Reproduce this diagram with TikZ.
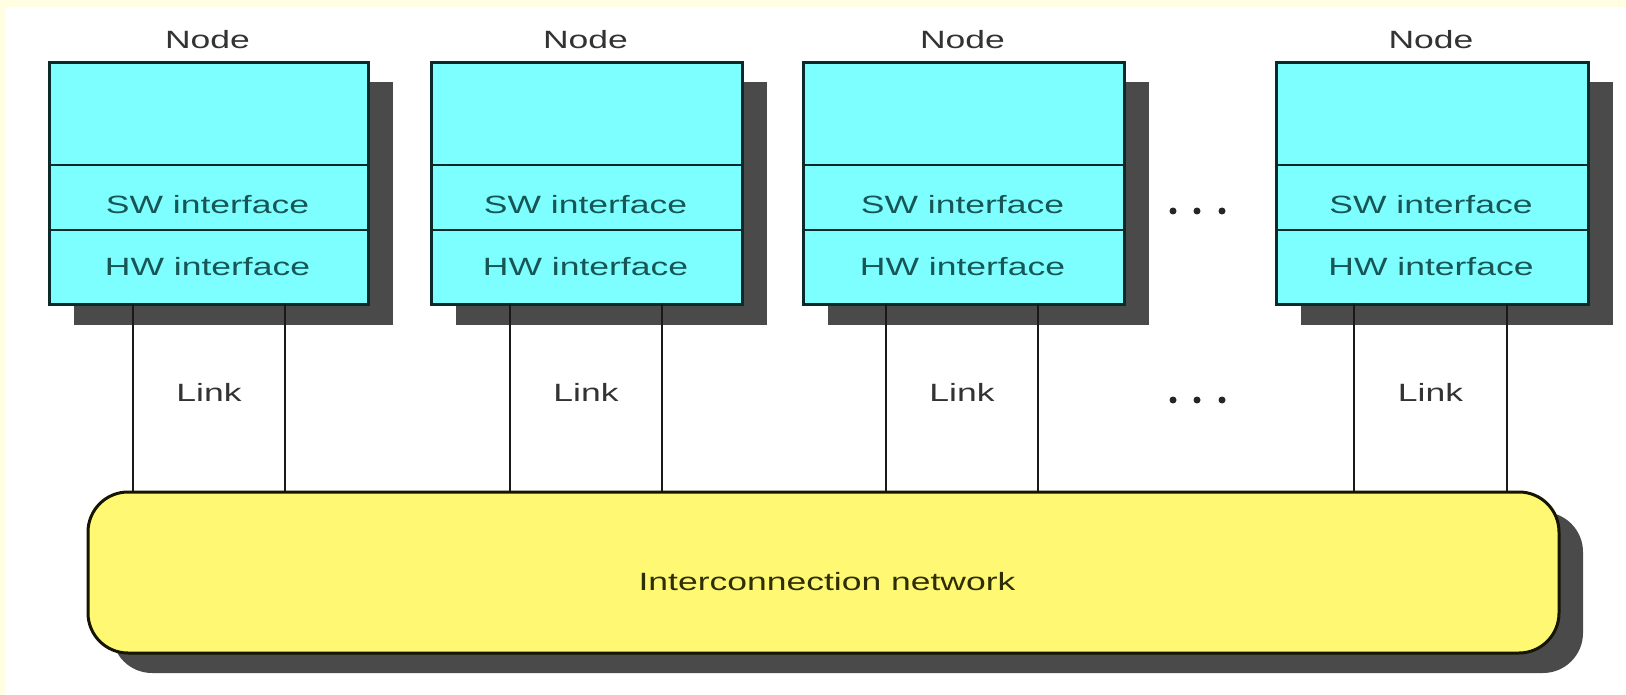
\documentclass[tikz,border=0pt]{standalone}
\usepackage{fontspec}
\setmainfont{Liberation Sans}
\newfontfamily\widefont{Liberation Sans}[FakeStretch=1.42]
\usetikzlibrary{shadows}
\definecolor{framey}{HTML}{FFFDE2}
\definecolor{cyanfill}{HTML}{7DFFFF}
\definecolor{boxline}{HTML}{0B2B2B}
\definecolor{shadowgray}{HTML}{4A4A4A}
\definecolor{netfill}{HTML}{FFF873}
\definecolor{netline}{HTML}{151500}
\definecolor{tealtext}{HTML}{185555}
\definecolor{graytext}{HTML}{333333}
\definecolor{olivetext}{HTML}{2E2E05}
\tikzset{
  lbl/.style={font=\widefont\fontsize{25}{30}\selectfont, inner sep=0pt},
  nodebox/.style={draw=boxline, line width=3pt, fill=cyanfill, minimum height=242pt, inner sep=0pt,
    drop shadow={shadow xshift=24pt, shadow yshift=-20pt, fill=shadowgray, opacity=1}},
  netbox/.style={draw=netline, line width=3pt, fill=netfill, rounded corners=40pt,
    minimum width=1471pt, minimum height=161pt, inner sep=0pt,
    drop shadow={shadow xshift=24pt, shadow yshift=-20pt, fill=shadowgray, opacity=1}},
  divline/.style={draw=boxline, line width=2.5pt},
  linkline/.style={draw=black!90, line width=2.5pt},
  dotmark/.style={fill=black!85}
}
\begin{document}
\begin{tikzpicture}[x=1pt,y=-1pt]
\useasboundingbox (0,0) rectangle (1626,695);
\fill[framey] (0,0) rectangle (1626,695);
\fill[white] (5,7) rectangle (1626,695);

% network
\node[netbox] (net) at (823.5,572.5) {};
\node[lbl, text=olivetext] (netlbl) at (827,582) {Interconnection network};

% node boxes
\foreach \n/\l/\r in {1/48/367, 2/430/741, 3/802/1123, 4/1275/1587}{
  \node[nodebox, minimum width={\r-\l}, anchor=north west] (b\n) at (\l,61) {};
  \draw[divline] ([yshift=-104pt]b\n.north west) -- ([yshift=-104pt]b\n.north east);
  \draw[divline] ([yshift=-169pt]b\n.north west) -- ([yshift=-169pt]b\n.north east);
  \node[lbl, text=graytext] (title\n) at ({(\l+\r)/2},40) {Node};
  \node[lbl, text=tealtext] (sw\n) at ({(\l+\r)/2},205) {SW interface};
  \node[lbl, text=tealtext] (hw\n) at ({(\l+\r)/2},267) {HW interface};
}

% links
\foreach \n/\a/\b in {1/133/285, 2/510/662, 3/886/1038, 4/1354/1507}{
  \coordinate (la\n) at (\a,303);
  \coordinate (lb\n) at (\b,303);
  \draw[linkline] (la\n) -- (la\n |- net.north);
  \draw[linkline] (lb\n) -- (lb\n |- net.north);
  \node[lbl, text=graytext] (link\n) at ({(\a+\b)/2},392) {Link};
}

% ellipses
\foreach \x in {1173,1197,1222}{
  \fill[dotmark] (\x,211) circle (3.5pt);
  \fill[dotmark] (\x,400) circle (3.5pt);
}
\end{tikzpicture}
\end{document}
